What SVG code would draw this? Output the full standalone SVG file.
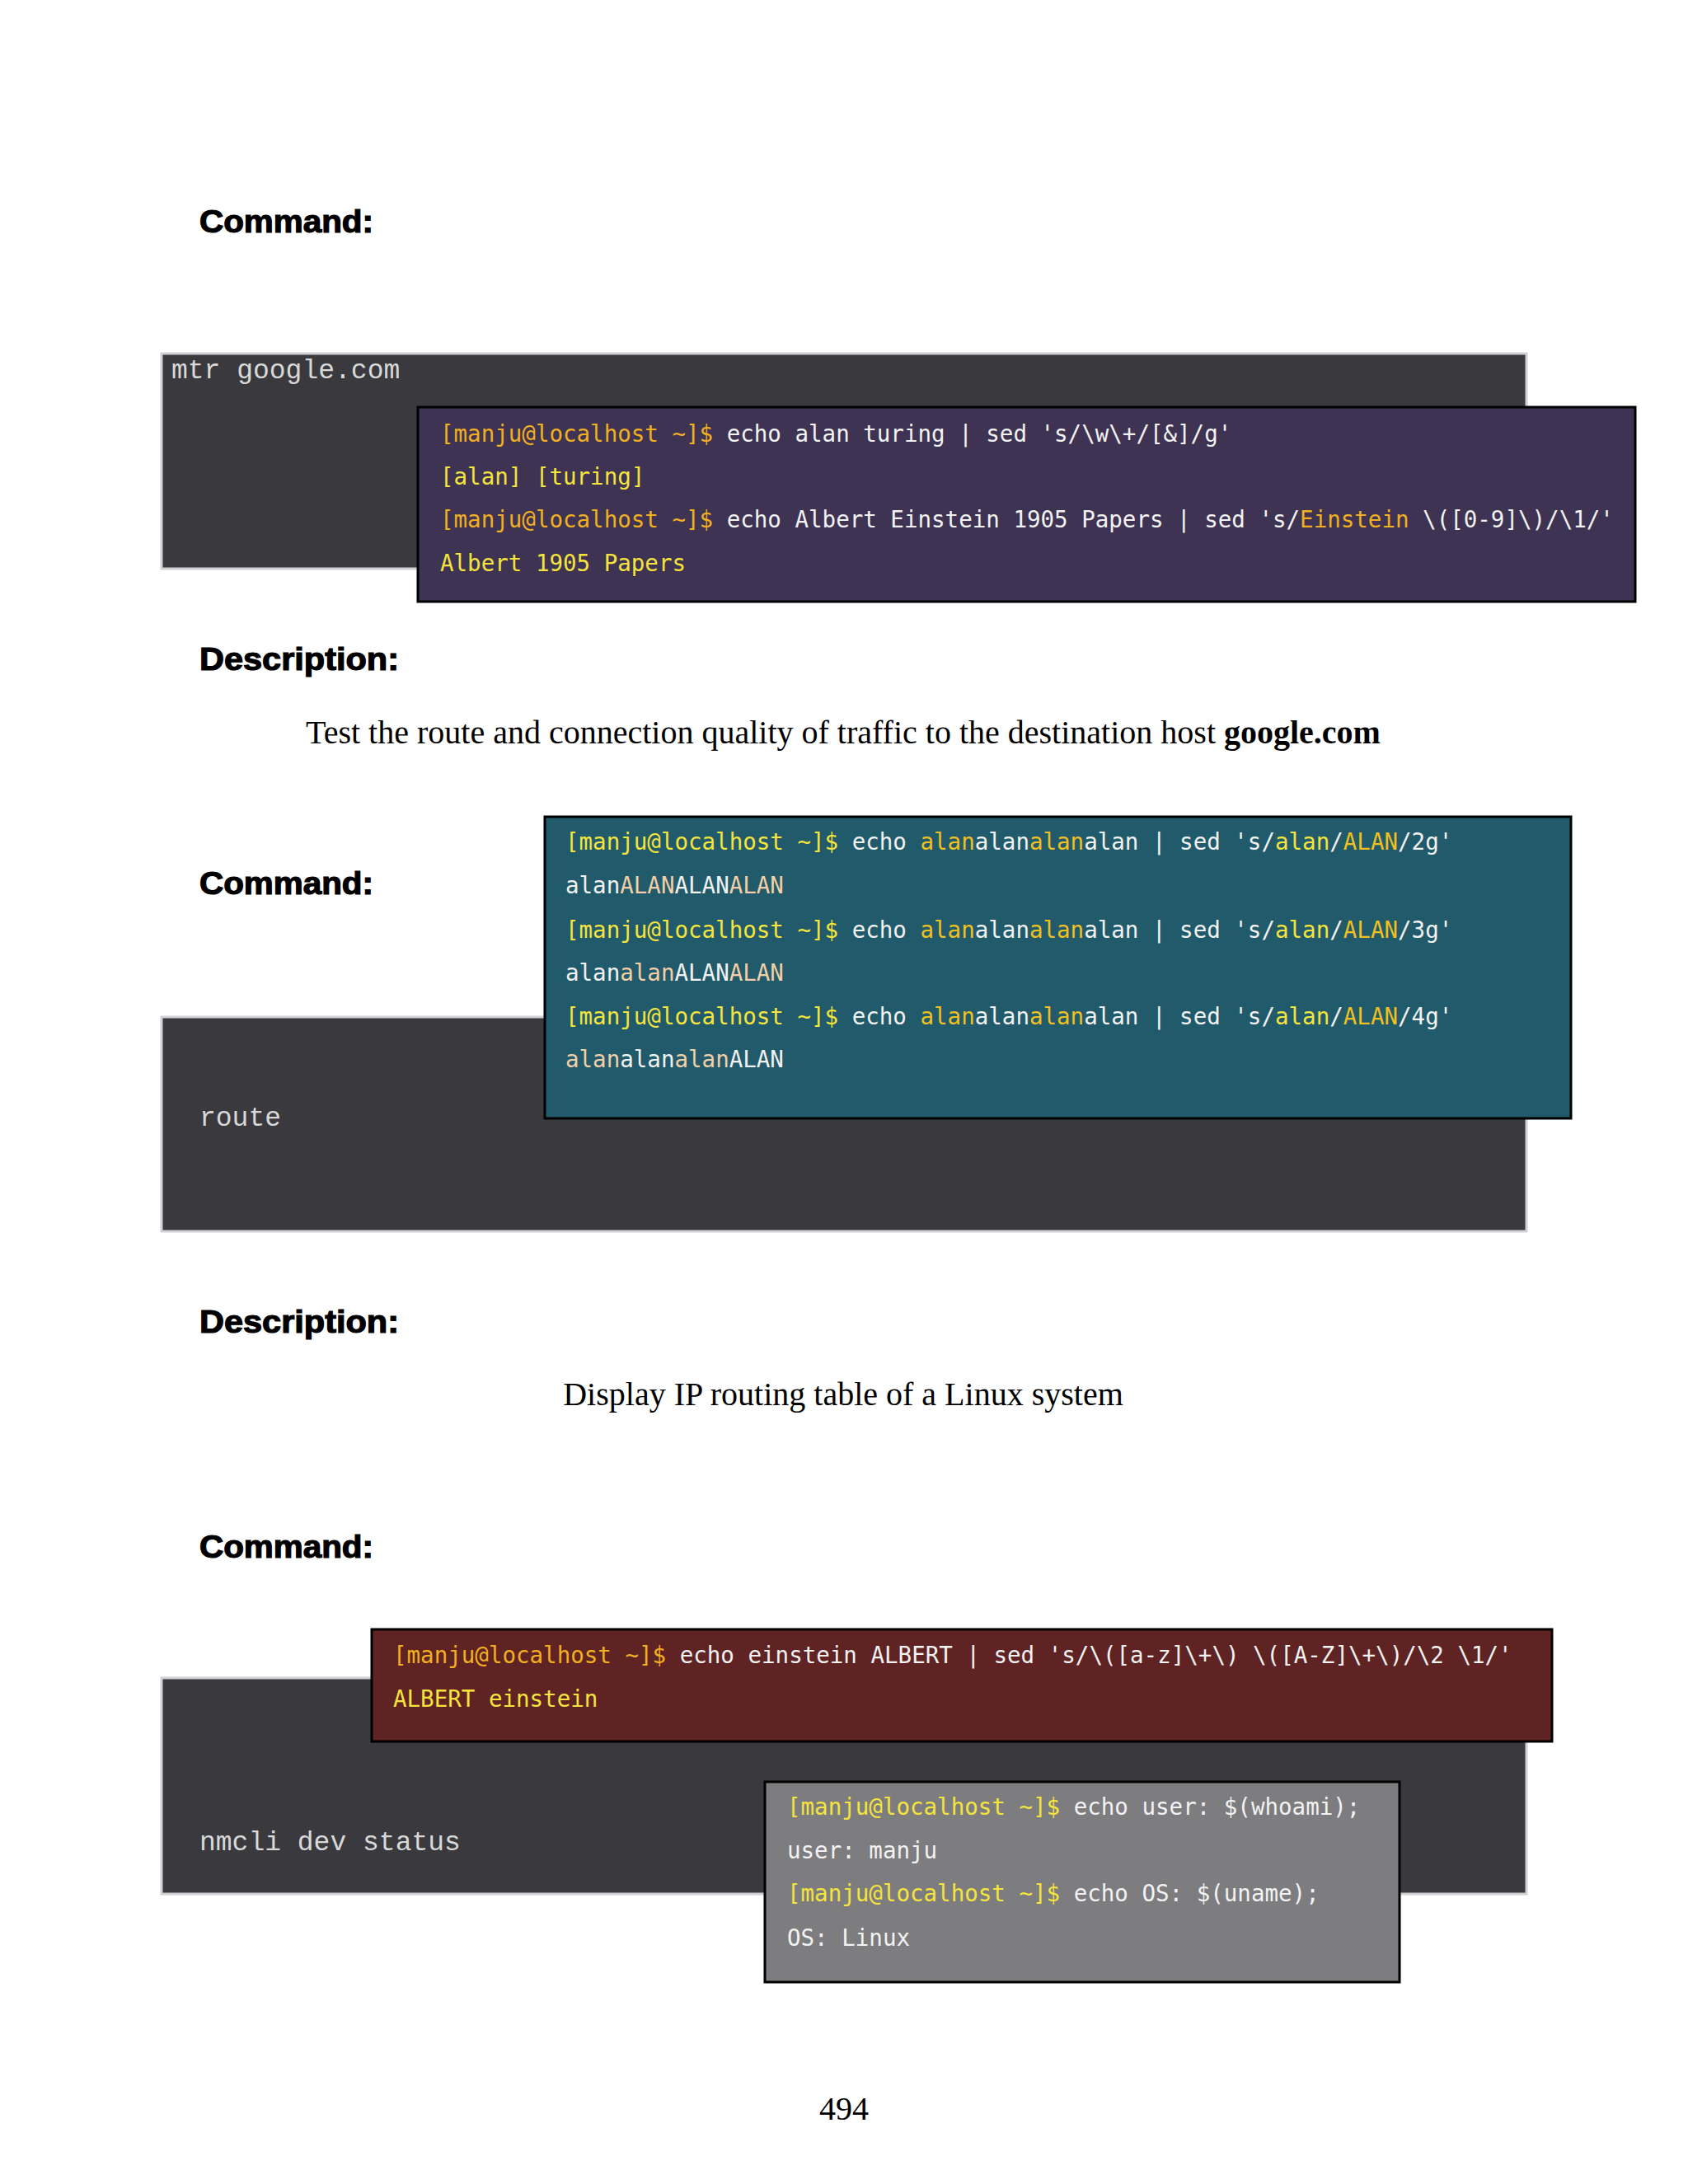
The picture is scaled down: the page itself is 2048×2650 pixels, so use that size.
<svg xmlns="http://www.w3.org/2000/svg" width="2048" height="2650" viewBox="0 0 2048 2650">
<style>
.h{font-family:"Liberation Sans",Arial,sans-serif;font-weight:900;font-size:38px;fill:#000;stroke:#000;stroke-width:1.2}
.d{font-family:"Liberation Serif","Times New Roman",serif;font-size:40px;fill:#000}
.dark{fill:#39393e;stroke:#d0d0d4;stroke-width:3}
.cmd{font-family:"Liberation Mono","Courier New",monospace;font-size:33px;fill:#d8d8d8}
.t{font-family:"DejaVu Sans Mono",monospace;font-size:27.5px;fill:#f2f2f2}
.term{stroke:#000;stroke-width:3}
.p{fill:#f0b020}.y{fill:#f5e43c}.o{fill:#f0c020}.tan{fill:#f2cfa6}
</style>
<rect width="2048" height="2650" fill="#fff"/>
<g id="sec1">
<text class="h" x="242" y="282" textLength="211" lengthAdjust="spacingAndGlyphs">Command:</text>
<rect class="dark" x="196" y="429" width="1656" height="261"/>
<text class="cmd" x="208" y="459">mtr google.com</text>
<g id="term1">
<rect class="term" x="507" y="494" width="1477" height="236" fill="#3e3352"/>
<text class="t" x="534" y="536"><tspan class="p">[manju@localhost ~]$</tspan> echo alan turing | sed 's/\w\+/[&amp;]/g'</text>
<text class="t y" x="534" y="588">[alan] [turing]</text>
<text class="t" x="534" y="640"><tspan class="p">[manju@localhost ~]$</tspan> echo Albert Einstein 1905 Papers | sed 's/<tspan class="p">Einstein</tspan> \([0-9]\)/\1/'</text>
<text class="t y" x="534" y="693">Albert 1905 Papers</text>
</g>
<text class="h" x="242" y="813" textLength="242" lengthAdjust="spacingAndGlyphs">Description:</text>
<text class="d" x="1023" y="902" text-anchor="middle">Test the route and connection quality of traffic to the destination host <tspan font-weight="bold">google.com</tspan></text>
</g>
<g id="sec2">
<text class="h" x="242" y="1085" textLength="211" lengthAdjust="spacingAndGlyphs">Command:</text>
<rect class="dark" x="196" y="1234" width="1656" height="260"/>
<text class="cmd" x="242" y="1366">route</text>
<g id="term2">
<rect class="term" x="661" y="991" width="1245" height="366" fill="#215a6a"/>
<text class="t" x="686" y="1031"><tspan class="y">[manju@localhost ~]$</tspan> echo <tspan class="o">alan</tspan>alan<tspan class="o">alan</tspan>alan | sed 's/<tspan class="y">alan</tspan>/<tspan class="o">ALAN</tspan>/2g'</text>
<text class="t" x="686" y="1084">alan<tspan class="tan">ALAN</tspan>ALAN<tspan class="tan">ALAN</tspan></text>
<text class="t" x="686" y="1138"><tspan class="y">[manju@localhost ~]$</tspan> echo <tspan class="o">alan</tspan>alan<tspan class="o">alan</tspan>alan | sed 's/<tspan class="y">alan</tspan>/<tspan class="o">ALAN</tspan>/3g'</text>
<text class="t" x="686" y="1190">alan<tspan class="tan">alan</tspan>ALAN<tspan class="tan">ALAN</tspan></text>
<text class="t" x="686" y="1243"><tspan class="y">[manju@localhost ~]$</tspan> echo <tspan class="o">alan</tspan>alan<tspan class="o">alan</tspan>alan | sed 's/<tspan class="y">alan</tspan>/<tspan class="o">ALAN</tspan>/4g'</text>
<text class="t" x="686" y="1295"><tspan class="tan">alan</tspan>alan<tspan class="tan">alan</tspan>ALAN</text>
</g>
<text class="h" x="242" y="1617" textLength="242" lengthAdjust="spacingAndGlyphs">Description:</text>
<text class="d" x="1023" y="1705" text-anchor="middle">Display IP routing table of a Linux system</text>
</g>
<g id="sec3">
<text class="h" x="242" y="1890" textLength="211" lengthAdjust="spacingAndGlyphs">Command:</text>
<rect class="dark" x="196" y="2036" width="1656" height="262"/>
<text class="cmd" x="242" y="2245">nmcli dev status</text>
<g id="term3">
<rect class="term" x="451" y="1977" width="1432" height="136" fill="#602324"/>
<text class="t" x="477" y="2018"><tspan class="p">[manju@localhost ~]$</tspan> echo einstein ALBERT | sed 's/\([a-z]\+\) \([A-Z]\+\)/\2 \1/'</text>
<text class="t y" x="477" y="2071">ALBERT einstein</text>
</g>
<g id="term4">
<rect class="term" x="928" y="2162" width="770" height="243" fill="#7d7d80"/>
<text class="t" x="955" y="2202"><tspan class="y">[manju@localhost ~]$</tspan> echo user: $(whoami);</text>
<text class="t" x="955" y="2255">user: manju</text>
<text class="t" x="955" y="2307"><tspan class="y">[manju@localhost ~]$</tspan> echo OS: $(uname);</text>
<text class="t" x="955" y="2361">OS: Linux</text>
</g>
</g>
<text class="d" x="1024" y="2572" text-anchor="middle">494</text>
</svg>
